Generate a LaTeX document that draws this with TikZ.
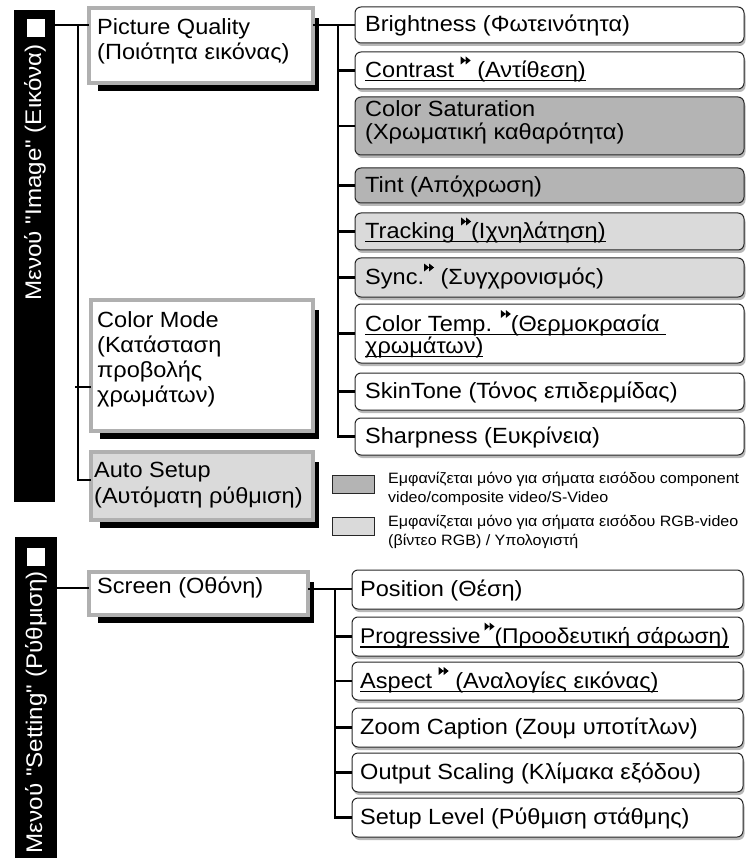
\documentclass[tikz,border=0pt]{standalone}
\usepackage{fontspec}
\newfontfamily\lib{Liberation Sans}[FakeStretch=1.07]
\usetikzlibrary{calc,backgrounds}
\definecolor{dk}{RGB}{180,180,180}
\definecolor{lt}{RGB}{218,218,218}
\definecolor{frm}{RGB}{176,176,176}
\newcommand\fA{\lib\fontsize{22}{25}\selectfont}
\newcommand\fL{\lib\fontsize{15}{18}\selectfont}
\newcommand\fB{\lib\fontsize{22.6}{26}\selectfont}
\newcommand\ff{\tikz[x=1pt,y=1pt,baseline=0pt]{\fill[black] (0,13)--(5,17)--(0,21)--cycle (5,13)--(10,17)--(5,21)--cycle;}}
\newcommand\ulx[1]{\setbox0\hbox{#1}\leavevmode\rlap{\rule[-4pt]{\wd0}{1.2pt}}\box0}
\newcommand\mlines[2]{\vtop{\baselineskip=#1\lineskiplimit=-99pt\relax #2}}
\tikzset{
  lvthree/.style={draw=black!85, line width=1pt, rounded corners=6pt, fill=white,
    minimum width=389pt, anchor=north west, inner sep=0pt, outer sep=0pt,
    preaction={fill=black!28, transform canvas={xshift=1.5pt,yshift=-3pt}}},
  lvtwo/.style={draw=frm, line width=4.3pt, fill=white, anchor=north west,
    inner sep=0pt, outer sep=0pt},
  shd/.style={fill=black},
  bar/.style={fill=black, anchor=north west, inner sep=0pt, outer sep=0pt},
  sq/.style={fill=white, minimum size=18pt, inner sep=0pt, outer sep=0pt},
  t3/.style={anchor=base west, inner sep=0pt, font=\fA},
  tl/.style={anchor=base west, inner sep=0pt, font=\fL},
  bartxt/.style={anchor=east, rotate=90, inner sep=0pt, text=white, font=\fB},
  conn/.style={line width=1.6pt, draw=black},
  connb/.style={line width=2.4pt, draw=black},
  swatch/.style={draw=black!85, line width=1pt, anchor=north west, minimum width=42pt,
    minimum height=18pt, inner sep=0pt, outer sep=0pt}
}
\begin{document}
\begin{tikzpicture}[x=1pt,y=-1pt]
\useasboundingbox (0,0) rectangle (746,858);
\begin{scope}[on background layer]
  \fill[white] (0,0) rectangle (746,858);
\end{scope}

% ---------- menu bars ----------
\node[bar, minimum width=41pt, minimum height=492pt] (bar1) at (14,10) {};
\node[sq] (sq1) at (35.5,28) {};
\node[bartxt] (bt1) at (35,44) {Μενού "Image" (Εικόνα)};

\node[bar, minimum width=42pt, minimum height=321pt] (bar2) at (15,537) {};
\node[sq] (sq2) at (35.5,556.5) {};
\node[bartxt] (bt2) at (36,571) {Μενού "Setting" (Ρύθμιση)};

% ---------- level 2 boxes ----------
\node[lvtwo, minimum width=224pt, minimum height=75pt] (pq) at (89,8) {};
\node[lvtwo, minimum width=222pt, minimum height=131pt] (cm) at (91,300) {};
\node[lvtwo, minimum width=222pt, minimum height=68pt, fill=lt] (as) at (91,452) {};
\node[lvtwo, minimum width=219pt, minimum height=43pt] (scr) at (89,572) {};

\begin{scope}[on background layer]
  \foreach \b in {pq,cm,as,scr}
    \fill[shd] ($(\b.north west)+(9,10)$) rectangle ($(\b.south east)+(6,8)$);
\end{scope}

\node[t3] (pqt) at (97,35) {\mlines{25pt}{\hbox{Picture Quality}\hbox{(Ποιότητα εικόνας)}}};
\node[t3] (cmt) at (97,327) {\mlines{25pt}{\hbox{Color Mode}\hbox{(Κατάσταση}\hbox{προβολής}\hbox{χρωμάτων)}}};
\node[t3] (ast) at (94,477) {\mlines{26pt}{\hbox{Auto Setup}\hbox{(Αυτόματη ρύθμιση)}}};
\node[t3] (scrt) at (97,593) {Screen (Οθόνη)};

% ---------- level 3 boxes: Image ----------
\node[lvthree, minimum height=36pt] (b1) at (355,7) {};
\node[lvthree, minimum height=37pt] (b2) at (355,52) {};
\node[lvthree, minimum height=58pt, fill=dk] (b3) at (355,97) {};
\node[lvthree, minimum height=35pt, fill=dk] (b4) at (355,168) {};
\node[lvthree, minimum height=37pt, fill=lt] (b5) at (355,213) {};
\node[lvthree, minimum height=39pt, fill=lt] (b6) at (355,258) {};
\node[lvthree, minimum height=59pt] (b7) at (355,304) {};
\node[lvthree, minimum height=37pt] (b8) at (355,373) {};
\node[lvthree, minimum height=37pt] (b9) at (355,418) {};

\node[t3] (b1t) at (365,32) {Brightness (Φωτεινότητα)};
\node[t3] (b2t) at (365,77.5) {\ulx{Contrast \ff\ (Αντίθεση)}};
\node[t3] (b3t) at (365,117) {\mlines{23pt}{\hbox{Color Saturation}\hbox{(Χρωματική καθαρότητα)}}};
\node[t3] (b4t) at (365,192.5) {Tint (Απόχρωση)};
\node[t3] (b5t) at (365,238.5) {\ulx{Tracking \ff(Ιχνηλάτηση)}};
\node[t3] (b6t) at (365,284.5) {Sync.\ff\ (Συγχρονισμός)};
\node[t3] (b7t) at (365,331) {\mlines{22pt}{\hbox{\ulx{Color Temp. \ff(Θερμοκρασία }}\hbox{\ulx{χρωμάτων)}}}};
\node[t3] (b8t) at (365,398.5) {SkinTone (Τόνος επιδερμίδας)};
\node[t3] (b9t) at (365,443.5) {Sharpness (Ευκρίνεια)};

% ---------- level 3 boxes: Setting ----------
\node[lvthree, minimum width=391pt, minimum height=39pt] (s1) at (352,570) {};
\node[lvthree, minimum width=391pt, minimum height=39pt] (s2) at (352,617) {};
\node[lvthree, minimum width=391pt, minimum height=38pt] (s3) at (352,662) {};
\node[lvthree, minimum width=391pt, minimum height=39pt] (s4) at (352,708) {};
\node[lvthree, minimum width=391pt, minimum height=39pt] (s5) at (352,753) {};
\node[lvthree, minimum width=391pt, minimum height=39pt] (s6) at (352,798) {};

\node[t3] (s1t) at (360,596.5) {Position (Θέση)};
\node[t3, font=\lib\fontsize{21.3}{25}\selectfont] (s2t) at (360,643.5) {\ulx{Progressive\kern4pt\ff(Προοδευτική σάρωση)}};
\node[t3] (s3t) at (360,688) {\ulx{Aspect \ff\ (Αναλογίες εικόνας)}};
\node[t3] (s4t) at (360,734.5) {Zoom Caption (Ζουμ υποτίτλων)};
\node[t3] (s5t) at (360,779.5) {Output Scaling (Κλίμακα εξόδου)};
\node[t3] (s6t) at (360,824.5) {Setup Level (Ρύθμιση στάθμης)};

% ---------- legend ----------
\node[swatch, fill=dk] (lg1) at (332,475) {};
\node[swatch, fill=lt] (lg2) at (332,517) {};
\node[tl] (lg1a) at (388,483) {Εμφανίζεται μόνο για σήματα εισόδου component};
\node[tl] (lg1b) at (388,502) {video/composite video/S-Video};
\node[tl] (lg2a) at (388,526) {Εμφανίζεται μόνο για σήματα εισόδου RGB-video};
\node[tl] (lg2b) at (388,545) {(βίντεο RGB) / Υπολογιστή};

% ---------- connectors: Image ----------
\coordinate (j1) at (78,25);
\coordinate (j2) at (78,480);
\coordinate (j3) at (78,387);
\draw[conn] (bar1.east |- j1) -- (pq.west |- j1);
\draw[conn] (j1) -- (j2) -- (as.west |- j2);
\draw[conn] ([xshift=-3pt]j3) -- (cm.west |- j3);

\coordinate (k1) at (338,25);
\draw[connb] (pq.east |- k1) -- (b1.west |- k1);
\draw[connb] (k1) -- (k1 |- b9.west) -- (b9.west);
\foreach \b in {b2,b3,b4,b5,b6,b7,b8}
  \draw[connb] (k1 |- \b.west) -- (\b.west);

% ---------- connectors: Setting ----------
\coordinate (m0) at (57,588);
\coordinate (m1) at (335,589);
\draw[conn] (bar2.east |- m0) -- (scr.west |- m0);
\draw[connb] (scr.east |- m1) -- (s1.west |- m1);
\draw[connb] (m1) -- (m1 |- s6.west) -- (s6.west);
\foreach \b in {s2,s3,s4,s5}
  \draw[connb] (m1 |- \b.west) -- (\b.west);
\end{tikzpicture}
\end{document}
